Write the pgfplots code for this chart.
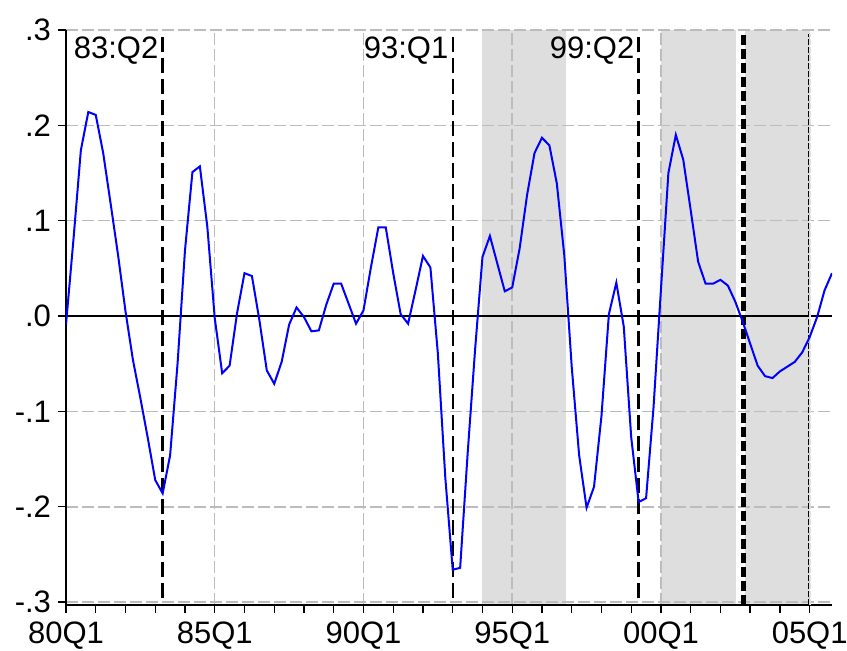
\documentclass[border=0pt]{standalone}
\usepackage{fontspec}
\setmainfont{Liberation Sans}
\usepackage{pgfplots}
\pgfplotsset{compat=1.18}
\usetikzlibrary{calc}
\definecolor{shade}{RGB}{222,222,222}
\definecolor{gridc}{RGB}{188,188,188}
\begin{document}
\begin{tikzpicture}
\begin{axis}[name=ax, set layers=standard,
  scale only axis, width=383pt, height=287.5pt,
  xmin=1980, xmax=2005.75, ymin=-0.303, ymax=0.3,
  axis x line*=bottom, axis y line*=left,
  axis line style={line width=1pt, black},
  xtick={1980,1985,1990,1995,2000,2005},
  xticklabels={80Q1,85Q1,90Q1,95Q1,00Q1,05Q1},
  minor xtick={1981,1982,1983,1984,1986,1987,1988,1989,1991,1992,1993,1994,1996,1997,1998,1999,2001,2002,2003,2004},
  ytick={-0.3,-0.2,-0.1,0,0.1,0.2,0.3},
  yticklabels={-.3,-.2,-.1,.0,.1,.2,.3},
  tick align=outside, major tick length=4pt, minor tick length=4pt,
  tick style={black, line width=0.7pt},
  xmajorgrids, ymajorgrids,
  major grid style={gridc, line width=0.75pt, dash pattern=on 6pt off 2pt},
  ticklabel style={font=\fontsize{15.5}{18}\selectfont},
  xticklabel style={yshift=-1pt},
]
% shaded periods
\addplot[on layer=axis background, fill=shade, draw=none] coordinates {(1994,-0.303) (1994,0.3) (1996.81,0.3) (1996.81,-0.303)} -- cycle;
\addplot[on layer=axis background, fill=shade, draw=none] coordinates {(2000,-0.303) (2000,0.3) (2002.53,0.3) (2002.53,-0.303)} -- cycle;
\addplot[on layer=axis background, fill=shade, draw=none] coordinates {(2002.84,-0.303) (2002.84,0.3) (2005.0,0.3) (2005.0,-0.303)} -- cycle;
% zero line
\addplot[black, line width=1pt] coordinates {(1980,0) (2005.75,0)};
% vertical break lines
\addplot[black, line width=1.2pt, dash pattern=on 7.5pt off 3pt] coordinates {(1983.25,-0.296) (1983.25,0.296)};
\addplot[black, line width=1.2pt, dash pattern=on 7.5pt off 3pt] coordinates {(1993.0,-0.296) (1993.0,0.296)};
\addplot[black, line width=1.2pt, dash pattern=on 7.5pt off 3pt] coordinates {(1999.25,-0.296) (1999.25,0.296)};
\addplot[black, line width=2.3pt, dash pattern=on 5pt off 2pt] coordinates {(2002.78,-0.303) (2002.78,0.296)};
\addplot[black, line width=0.35pt, double=shade, double distance=1pt, dash pattern=on 3pt off 1pt] coordinates {(2005.0,-0.303) (2005.0,0.296)};
% series
\addplot[blue, line width=1pt] table {
x y
1980.00 -0.009
1980.25 0.080
1980.50 0.174
1980.75 0.214
1981.00 0.211
1981.25 0.171
1981.50 0.118
1981.75 0.064
1982.00 0.005
1982.25 -0.046
1982.50 -0.086
1982.75 -0.128
1983.00 -0.172
1983.25 -0.186
1983.50 -0.146
1983.75 -0.050
1984.00 0.069
1984.25 0.151
1984.50 0.157
1984.75 0.094
1985.00 -0.002
1985.25 -0.060
1985.50 -0.052
1985.75 0.003
1986.00 0.045
1986.25 0.042
1986.50 -0.004
1986.75 -0.057
1987.00 -0.071
1987.25 -0.048
1987.50 -0.009
1987.75 0.009
1988.00 -0.001
1988.25 -0.016
1988.50 -0.015
1988.75 0.012
1989.00 0.034
1989.25 0.034
1989.50 0.013
1989.75 -0.008
1990.00 0.006
1990.25 0.051
1990.50 0.093
1990.75 0.093
1991.00 0.045
1991.25 0.002
1991.50 -0.008
1991.75 0.027
1992.00 0.063
1992.25 0.051
1992.50 -0.039
1992.75 -0.169
1993.00 -0.266
1993.25 -0.264
1993.50 -0.145
1993.75 -0.036
1994.00 0.062
1994.25 0.084
1994.50 0.055
1994.75 0.026
1995.00 0.030
1995.25 0.071
1995.50 0.127
1995.75 0.171
1996.00 0.187
1996.25 0.179
1996.50 0.139
1996.75 0.064
1997.00 -0.053
1997.25 -0.146
1997.50 -0.201
1997.75 -0.179
1998.00 -0.105
1998.25 0.002
1998.50 0.035
1998.75 -0.011
1999.00 -0.127
1999.25 -0.195
1999.50 -0.191
1999.75 -0.096
2000.00 0.028
2000.25 0.150
2000.50 0.190
2000.75 0.164
2001.00 0.111
2001.25 0.057
2001.50 0.034
2001.75 0.034
2002.00 0.038
2002.25 0.032
2002.50 0.015
2002.75 -0.006
2003.00 -0.029
2003.25 -0.052
2003.50 -0.063
2003.75 -0.065
2004.00 -0.058
2004.25 -0.053
2004.50 -0.048
2004.75 -0.038
2005.00 -0.022
2005.25 -0.001
2005.50 0.027
2005.75 0.045
};
% labels
\node[anchor=north east, inner sep=0pt, font=\fontsize{15.5}{18}\selectfont, xshift=-2pt, yshift=-3pt] at (axis cs:1983.25,0.3) {83:Q2};
\node[anchor=north east, inner sep=0pt, font=\fontsize{15.5}{18}\selectfont, xshift=-2pt, yshift=-3pt] at (axis cs:1993.0,0.3) {93:Q1};
\node[anchor=north east, inner sep=0pt, font=\fontsize{15.5}{18}\selectfont, xshift=-2pt, yshift=-3pt] at (axis cs:1999.25,0.3) {99:Q2};
\end{axis}
\pgfresetboundingbox
\path ($(ax.south west)+(-33pt,-22.5pt)$) rectangle ($(ax.south west)+(390.5pt,302.5pt)$);
\end{tikzpicture}
\end{document}
